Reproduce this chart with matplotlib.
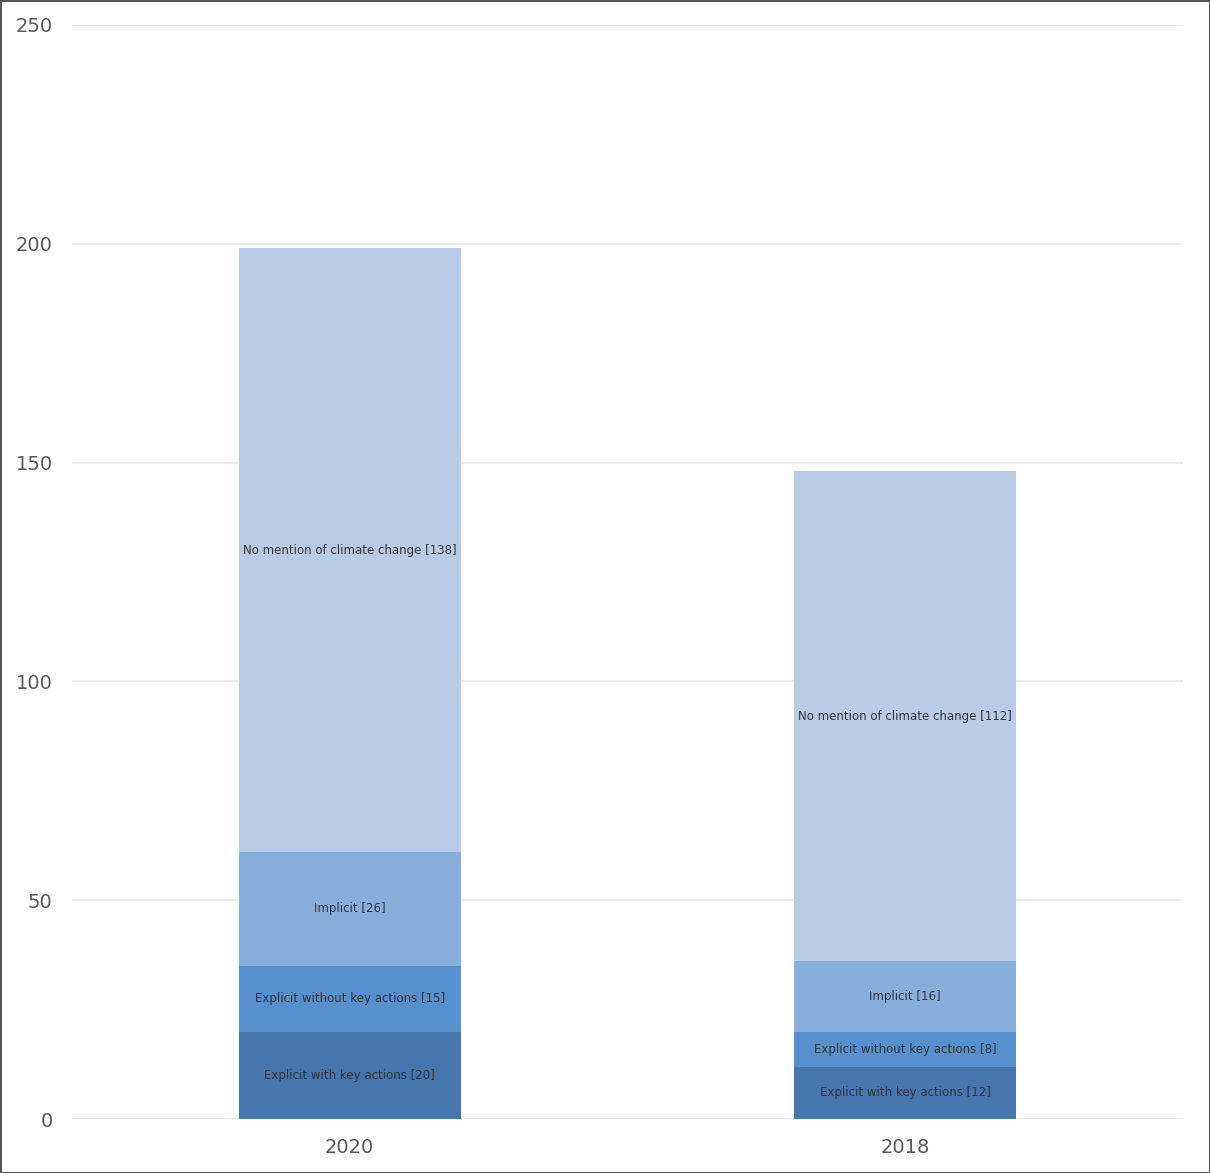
import matplotlib.pyplot as plt
import numpy as np

years = ['2020', '2018']
series_names = ['Explicit with key actions', 'Explicit without key actions',
                'Implicit', 'No mention of climate change']
explicit_with = [20, 12]
explicit_without = [15, 8]
implicit = [26, 16]
no_mention = [138, 112]

colors = ['#4676ad', '#5790cf', '#88aedc', '#b8cce5']

fig = plt.figure(figsize=(12.1, 11.73), dpi=100)
fig.patch.set_edgecolor('#555555')
fig.patch.set_linewidth(2)
ax = fig.add_axes([0.0595, 0.046, 0.918, 0.9327])

x = np.arange(len(years))
bottom = np.zeros(len(years))
for name, vals, c in zip(series_names, [explicit_with, explicit_without, implicit, no_mention], colors):
    vals = np.array(vals)
    ax.bar(x, vals, width=0.4, bottom=bottom, color=c, zorder=2)
    for xi, b, v in zip(x, bottom, vals):
        ax.text(xi, b + v / 2, f'{name} [{v}]', ha='center', va='center',
                fontsize=8.5, color='#333333', zorder=3)
    bottom += vals

ax.set_xlim(-0.5, 1.5)
ax.set_ylim(0, 250)
ax.set_yticks([0, 50, 100, 150, 200, 250])
ax.set_xticks(x)
ax.set_xticklabels(years)
ax.tick_params(axis='both', length=0, labelsize=14, labelcolor='#595959')
ax.tick_params(axis='y', pad=14)
ax.tick_params(axis='x', pad=14)
ax.grid(axis='y', color='#e8e8e8', linewidth=1.2, zorder=0)
for s in ax.spines.values():
    s.set_visible(False)

fig.savefig('out.png', dpi=100)
